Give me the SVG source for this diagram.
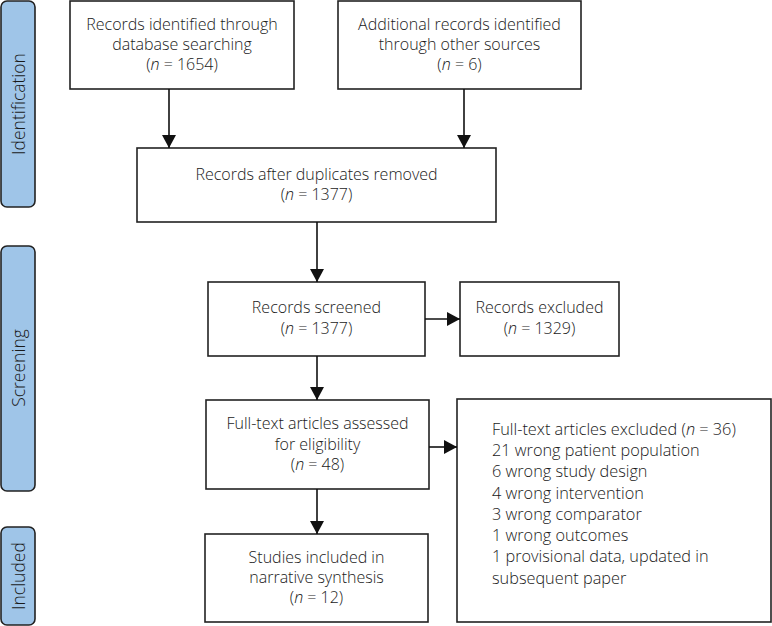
<svg xmlns="http://www.w3.org/2000/svg" width="772" height="626" viewBox="0 0 772 626">
<style>
.box{fill:#fff;stroke:#222;stroke-width:1.6}
.tab{fill:#9fc5e8;stroke:#222;stroke-width:1.6}
text{font-family:"Open Sans","Liberation Sans",sans-serif;font-weight:300;font-size:16px;fill:#1a1a1a}
.c{text-anchor:middle}
.tl{font-size:17.5px}
.lst{font-size:16.3px}
.ln{stroke:#111;stroke-width:1.6;fill:none}
</style>
<defs>
<marker id="ah" viewBox="0 0 13 14" refX="13" refY="7" markerWidth="13" markerHeight="14" markerUnits="userSpaceOnUse" orient="auto">
<path d="M0,0 L13,7 L0,14 Z" fill="#111"/>
</marker>
</defs>
<g id="tab-identification"><rect class="tab" x="1" y="1" width="34" height="206" rx="6"/><text class="c tl" transform="translate(24.5,104) rotate(-90)">Identification</text></g>
<g id="tab-screening"><rect class="tab" x="1" y="246" width="34" height="245" rx="6"/><text class="c tl" transform="translate(24.5,368) rotate(-90)">Screening</text></g>
<g id="tab-included"><rect class="tab" x="1" y="527" width="34" height="98" rx="6"/><text class="c tl" transform="translate(24.5,576) rotate(-90)">Included</text></g>

<g id="n1"><rect class="box" x="70" y="1" width="224" height="88"/>
<text class="c" x="182" y="30">Records identified through</text>
<text class="c" x="182" y="50">database searching</text>
<text class="c" x="182" y="70">(<tspan font-style="italic">n</tspan> = 1654)</text></g>
<g id="n2"><rect class="box" x="338" y="1" width="243" height="88"/>
<text class="c" x="459.5" y="30">Additional records identified</text>
<text class="c" x="459.5" y="50">through other sources</text>
<text class="c" x="459.5" y="70">(<tspan font-style="italic">n</tspan> = 6)</text></g>
<g id="n3"><rect class="box" x="137" y="148" width="359" height="74"/>
<text class="c" x="316.5" y="180">Records after duplicates removed</text>
<text class="c" x="316.5" y="200">(<tspan font-style="italic">n</tspan> = 1377)</text></g>
<g id="n4"><rect class="box" x="208" y="282" width="217" height="74"/>
<text class="c" x="316.5" y="313">Records screened</text>
<text class="c" x="316.5" y="334">(<tspan font-style="italic">n</tspan> = 1377)</text></g>
<g id="n5"><rect class="box" x="460" y="282" width="159" height="74"/>
<text class="c" x="539.5" y="313">Records excluded</text>
<text class="c" x="539.5" y="334">(<tspan font-style="italic">n</tspan> = 1329)</text></g>
<g id="n6"><rect class="box" x="206" y="400" width="223" height="89"/>
<text class="c" x="317.5" y="429">Full-text articles assessed</text>
<text class="c" x="317.5" y="450">for eligibility</text>
<text class="c" x="317.5" y="470">(<tspan font-style="italic">n</tspan> = 48)</text></g>
<g id="n7"><rect class="box" x="457" y="399" width="314" height="223"/>
<text class="lst" x="492" y="435">Full-text articles excluded (<tspan font-style="italic">n</tspan> = 36)</text>
<text class="lst" x="492" y="456">21 wrong patient population</text>
<text class="lst" x="492" y="477">6 wrong study design</text>
<text class="lst" x="492" y="499">4 wrong intervention</text>
<text class="lst" x="492" y="520">3 wrong comparator</text>
<text class="lst" x="492" y="541">1 wrong outcomes</text>
<text class="lst" x="492" y="562">1 provisional data, updated in</text>
<text class="lst" x="492" y="584">subsequent paper</text></g>
<g id="n8"><rect class="box" x="205" y="534" width="223" height="88"/>
<text class="c" x="316.5" y="563">Studies included in</text>
<text class="c" x="316.5" y="583">narrative synthesis</text>
<text class="c" x="316.5" y="603">(<tspan font-style="italic">n</tspan> = 12)</text></g>

<g id="connectors">
<line class="ln" x1="169" y1="89" x2="169" y2="148" marker-end="url(#ah)"/>
<line class="ln" x1="464" y1="89" x2="464" y2="148" marker-end="url(#ah)"/>
<line class="ln" x1="317" y1="222" x2="317" y2="282" marker-end="url(#ah)"/>
<line class="ln" x1="425" y1="319" x2="460" y2="319" marker-end="url(#ah)"/>
<line class="ln" x1="317" y1="356" x2="317" y2="400" marker-end="url(#ah)"/>
<line class="ln" x1="429" y1="447" x2="457" y2="447" marker-end="url(#ah)"/>
<line class="ln" x1="317" y1="489" x2="317" y2="534" marker-end="url(#ah)"/>
</g>
</svg>
